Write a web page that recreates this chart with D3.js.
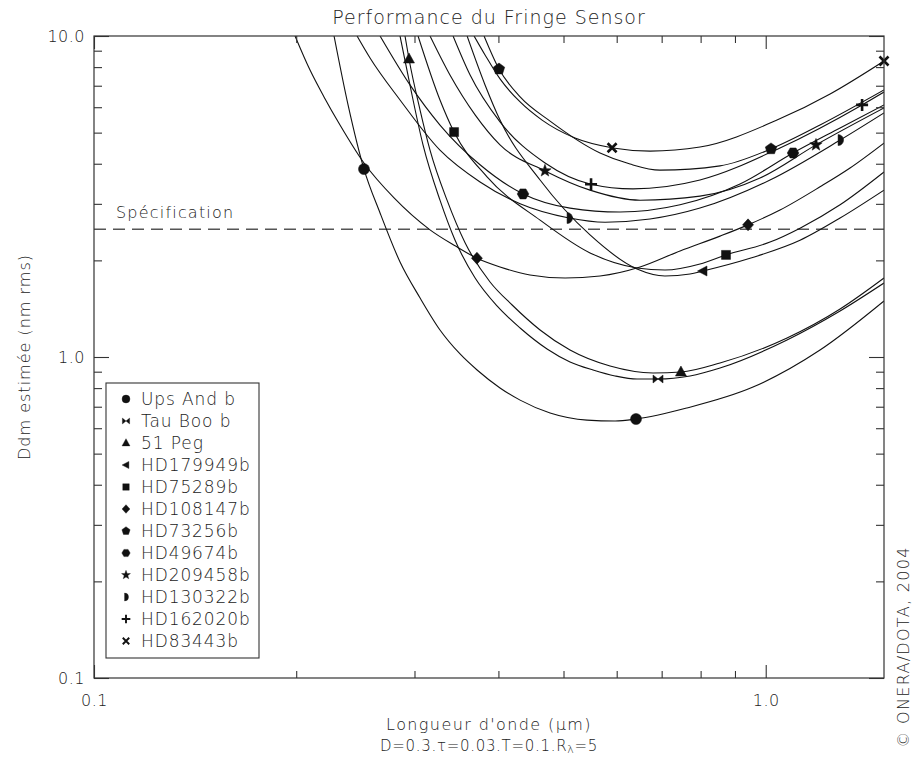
<!DOCTYPE html>
<html><head><meta charset="utf-8">
<script src="https://cdn.jsdelivr.net/npm/d3@7"></script>
<style>
body{margin:0;background:#fff}
svg{display:block}
text{font-family:"DejaVu Sans","Noto Sans",sans-serif;fill:#222;font-weight:200}
</style></head><body>
<svg id="c" width="914" height="757"></svg>
<script>
// ---------- data (wavelength in µm, Ddm in nm rms) ----------
const seriesNames = ["Ups And b","Tau Boo b","51 Peg","HD179949b","HD75289b","HD108147b",
  "HD73256b","HD49674b","HD209458b","HD130322b","HD162020b","HD83443b"];
const seriesSymbols = ["circle","bowtie","triUp","triLeft","square","diamond",
  "pentagon","hexagon","star","halfCircle","plus","cross"];

const lam_UpsAnd = [0.2277,0.2389,0.2523,0.2666,0.2855,0.3058,0.3274,0.3507,0.3718,0.4022,0.4309,0.4775,0.5420,0.5966,0.6411,0.7636,0.9574,1.2046,1.5];
const ddm_UpsAnd = [10.0,6.10,3.85,2.81,1.977,1.527,1.214,1.022,0.911,0.801,0.734,0.669,0.636,0.632,0.641,0.694,0.806,1.051,1.494];

const lam_TauBoo = [0.2855,0.2964,0.3089,0.3274,0.3448,0.3693,0.3981,0.4309,0.4726,0.5113,0.5533,0.5966,0.6433,0.6912,0.7715,0.8550,1.0758,1.2904,1.5];
const ddm_TauBoo = [10.0,6.79,4.58,3.08,2.31,1.762,1.442,1.231,1.059,0.965,0.911,0.873,0.854,0.854,0.873,0.924,1.130,1.391,1.700];

const lam_51Peg = [0.2904,0.2944,0.3058,0.3164,0.3354,0.3568,0.3887,0.4193,0.4614,0.5113,0.5865,0.6796,0.7482,0.8550,1.0758,1.2904,1.5];
const ddm_51Peg = [10.0,8.48,5.88,4.41,3.08,2.27,1.713,1.452,1.214,1.051,0.937,0.892,0.898,0.958,1.146,1.411,1.762];

const lam_HD179949b = [0.3593,0.3821,0.4022,0.4614,0.5476,0.6433,0.7080,0.7715,0.8066,0.9476,1.1248,1.2904,1.5];
const ddm_HD179949b = [10.0,7.04,5.47,3.56,2.40,1.880,1.788,1.813,1.853,2.03,2.31,2.71,3.31];

const lam_HD75289b = [0.3037,0.3274,0.3436,0.3847,0.4614,0.5476,0.6433,0.7080,0.7983,0.8728,1.0148,1.1248,1.2904,1.5];
const ddm_HD75289b = [10.0,6.32,5.02,3.64,2.67,2.11,1.894,1.866,1.949,2.08,2.28,2.52,2.98,3.77];

const lam_HD108147b = [0.1992,0.2097,0.2200,0.2324,0.2523,0.2797,0.3164,0.3448,0.3718,0.4022,0.4457,0.5026,0.5667,0.6500,0.7456,0.8550,0.9411,1.0502,1.2046,1.3351,1.5];
const ddm_HD108147b = [10.0,7.83,6.46,5.28,4.02,3.13,2.49,2.22,2.03,1.907,1.801,1.762,1.788,1.907,2.14,2.38,2.58,2.87,3.39,3.88,4.64];

const lam_HD73256b = [0.3808,0.4008,0.4309,0.4775,0.5667,0.6280,0.6960,0.8550,1.0183,1.2046,1.5];
const ddm_HD73256b = [10.0,7.89,6.46,5.43,4.32,3.99,3.82,3.94,4.45,5.28,6.79];

const lam_HD49674b = [0.2666,0.2954,0.3274,0.3756,0.4354,0.5113,0.6069,0.7456,0.9156,1.0981,1.2904,1.5];
const ddm_HD49674b = [10.0,7.04,5.28,3.97,3.22,2.91,2.83,2.98,3.46,4.32,5.17,6.10];

const lam_HD209458b = [0.3164,0.3388,0.3693,0.4022,0.4694,0.5476,0.6500,0.7983,0.9807,1.1882,1.5];
const ddm_HD209458b = [10.0,7.56,5.68,4.58,3.80,3.31,3.08,3.17,3.61,4.58,5.97];

const lam_HD130322b = [0.2464,0.2576,0.2855,0.3274,0.3756,0.4309,0.5096,0.5765,0.6726,0.7983,1.0148,1.2904,1.5];
const ddm_HD130322b = [10.0,8.54,6.32,4.41,3.51,3.00,2.71,2.63,2.69,2.91,3.56,4.74,5.76];

const lam_HD162020b = [0.3424,0.3630,0.4022,0.4694,0.5476,0.6345,0.7983,1.0502,1.3914,1.5];
const ddm_HD162020b = [10.0,7.56,5.40,4.02,3.46,3.34,3.56,4.48,6.10,6.69];

const lam_HD83443b = [0.3680,0.3821,0.4022,0.4309,0.4646,0.5202,0.5925,0.6726,0.7983,1.0395,1.2470,1.5];
const ddm_HD83443b = [10.0,8.73,7.35,6.23,5.47,4.81,4.48,4.38,4.51,5.47,6.60,8.36];

// wavelengths where each series carries its two symbols
const markerLam1 = [0.2523,0.2721,0.2944,0.3176,0.3436,0.3716,0.4008,0.4352,0.4692,0.5096,0.5495,0.5906];
const markerLam2 = [0.6411,0.6913,0.7478,0.8065,0.8727,0.9412,1.0183,1.0983,1.1881,1.2904,1.3915,1.5];

const specValue = 2.5;
const xMajorTicks = [0.1, 1.0];
const xMajorLabels = ["0.1", "1.0"];
const xMinorTicks = [0.2,0.3,0.4,0.5,0.6,0.7,0.8,0.9];
const yMajorTicks = [0.1, 1, 10];
const yMajorLabels = ["0.1", "1.0", "10.0"];
const yMinorTicks = [0.2,0.3,0.4,0.5,0.6,0.7,0.8,0.9,2,3,4,5,6,7,8,9];

const lamArrays = [lam_UpsAnd,lam_TauBoo,lam_51Peg,lam_HD179949b,lam_HD75289b,lam_HD108147b,lam_HD73256b,lam_HD49674b,lam_HD209458b,lam_HD130322b,lam_HD162020b,lam_HD83443b];
const ddmArrays = [ddm_UpsAnd,ddm_TauBoo,ddm_51Peg,ddm_HD179949b,ddm_HD75289b,ddm_HD108147b,ddm_HD73256b,ddm_HD49674b,ddm_HD209458b,ddm_HD130322b,ddm_HD162020b,ddm_HD83443b];

// ---------- layout ----------
const L = 94, R = 884, T = 36, B = 678;
const svg = d3.select("#c");
const x = d3.scaleLog().domain([0.1, 1.5]).range([L, R]);
const y = d3.scaleLog().domain([0.1, 10]).range([B, T]);

svg.append("defs").append("clipPath").attr("id","clip")
  .append("rect").attr("x",L).attr("y",T).attr("width",R-L).attr("height",B-T);

// ---------- symbols ----------
function poly(n, r, a0){
  const pts=[];
  for(let k=0;k<n;k++){const a=a0+k*2*Math.PI/n; pts.push([r*Math.cos(a), r*Math.sin(a)]);}
  return "M"+pts.map(p=>p[0].toFixed(2)+","+p[1].toFixed(2)).join("L")+"Z";
}
function starPath(ro, ri){
  const pts=[];
  for(let k=0;k<10;k++){const a=-Math.PI/2+k*Math.PI/5; const r=k%2?ri:ro; pts.push([r*Math.cos(a), r*Math.sin(a)]);}
  return "M"+pts.map(p=>p[0].toFixed(2)+","+p[1].toFixed(2)).join("L")+"Z";
}
function drawSymbol(g, type, cx, cy, s){
  const t = `translate(${cx},${cy}) scale(${s})`;
  let d, stroke=false;
  switch(type){
    case "circle": d="M5.5,0A5.5,5.5 0 1,1 -5.5,0A5.5,5.5 0 1,1 5.5,0Z"; break;
    case "bowtie": d="M-5,-4L0,0L-5,4ZM5,-4L0,0L5,4Z"; break;
    case "triUp": d="M0,-6L5.5,4L-5.5,4Z"; break;
    case "triLeft": d="M-5.5,0L4,-5L4,5Z"; break;
    case "square": d="M-4.5,-4.5H4.5V4.5H-4.5Z"; break;
    case "diamond": d="M0,-6L5.5,0L0,6L-5.5,0Z"; break;
    case "pentagon": d=poly(5,6,-Math.PI/2); break;
    case "hexagon": d=poly(6,5.8,0); break;
    case "star": d=starPath(6.5,2.7); break;
    case "halfCircle": d="M-2,-5.5A5.5,5.5 0 0 1 -2,5.5Z"; break;
    case "plus": d="M-6,0H6M0,-6V6"; stroke=true; break;
    case "cross": d="M-4.5,-4.5L4.5,4.5M4.5,-4.5L-4.5,4.5"; stroke=true; break;
  }
  const p = g.append("path").attr("d", d).attr("transform", t);
  if(stroke) p.attr("fill","none").attr("stroke","#111").attr("stroke-width",2.6);
  else p.attr("fill","#111").attr("stroke","#111").attr("stroke-width",0.5);
}

// ---------- spec line ----------
svg.append("line").attr("x1",L).attr("x2",R).attr("y1",y(specValue)).attr("y2",y(specValue))
  .attr("stroke","#555").attr("stroke-width",1.3).attr("stroke-dasharray","12,7");
svg.append("text").attr("x",116).attr("y",y(specValue)-11).attr("font-size",16)
  .attr("letter-spacing",1.2).text("Spécification");

// ---------- curves ----------
const line = d3.line().x(d=>x(d[0])).y(d=>y(d[1])).curve(d3.curveMonotoneX);
const gCurves = svg.append("g").attr("clip-path","url(#clip)");
const paths = lamArrays.map((la,i)=>{
  const pts = la.map((l,j)=>[l, ddmArrays[i][j]]);
  return gCurves.append("path").attr("d", line(pts)).attr("fill","none")
    .attr("stroke","#111").attr("stroke-width",1.1).node();
});

function yOnPath(node, px){
  const len = node.getTotalLength();
  let lo=0, hi=len;
  for(let k=0;k<40;k++){const m=(lo+hi)/2; if(node.getPointAtLength(m).x<px) lo=m; else hi=m;}
  return node.getPointAtLength((lo+hi)/2).y;
}
const gMarks = svg.append("g");
seriesNames.forEach((nm,i)=>{
  [markerLam1[i], markerLam2[i]].forEach(lm=>{
    const la = lamArrays[i];
    if(lm < la[0] || lm > la[la.length-1]) return;
    const px = x(lm), py = yOnPath(paths[i], px);
    if(py < T-1 || py > B) return;
    drawSymbol(gMarks, seriesSymbols[i], px, py, 1);
  });
});

// ---------- axes ----------
const axisStyle = g => { g.select(".domain").remove(); g.selectAll("line").attr("stroke","#333").attr("stroke-width",1.1);
  g.selectAll("text").attr("font-size",16).attr("font-family","DejaVu Sans").attr("fill","#222").attr("letter-spacing",0.5); };
svg.append("g").attr("transform",`translate(0,${B})`)
  .call(d3.axisBottom(x).tickValues(xMajorTicks).tickSize(-13).tickPadding(17).tickFormat((d,i)=>xMajorLabels[i])).call(axisStyle);
svg.append("g").attr("transform",`translate(0,${B})`)
  .call(d3.axisBottom(x).tickValues(xMinorTicks).tickSize(-7).tickFormat("")).call(axisStyle);
svg.append("g").attr("transform",`translate(0,${T})`)
  .call(d3.axisTop(x).tickValues(xMajorTicks).tickSize(-13).tickFormat("")).call(axisStyle);
svg.append("g").attr("transform",`translate(0,${T})`)
  .call(d3.axisTop(x).tickValues(xMinorTicks).tickSize(-7).tickFormat("")).call(axisStyle);
svg.append("g").attr("transform",`translate(${L},0)`)
  .call(d3.axisLeft(y).tickValues(yMajorTicks).tickSize(-15).tickPadding(9).tickFormat((d,i)=>yMajorLabels[i])).call(axisStyle);
svg.append("g").attr("transform",`translate(${L},0)`)
  .call(d3.axisLeft(y).tickValues(yMinorTicks).tickSize(-8).tickFormat("")).call(axisStyle);
svg.append("g").attr("transform",`translate(${R},0)`)
  .call(d3.axisRight(y).tickValues(yMajorTicks).tickSize(-15).tickFormat("")).call(axisStyle);
svg.append("g").attr("transform",`translate(${R},0)`)
  .call(d3.axisRight(y).tickValues(yMinorTicks).tickSize(-8).tickFormat("")).call(axisStyle);
svg.append("rect").attr("x",L).attr("y",T).attr("width",R-L).attr("height",B-T)
  .attr("fill","none").attr("stroke","#333").attr("stroke-width",1.2);

// ---------- titles ----------
svg.append("text").attr("x",(L+R)/2).attr("y",24).attr("text-anchor","middle")
  .attr("font-size",19).attr("letter-spacing",1).text("Performance du Fringe Sensor");
svg.append("text").attr("transform",`translate(30,${(T+B)/2}) rotate(-90)`).attr("text-anchor","middle")
  .attr("font-size",16).attr("letter-spacing",1).text("Ddm estimée (nm rms)");
svg.append("text").attr("x",(L+R)/2).attr("y",730).attr("text-anchor","middle")
  .attr("font-size",16).attr("letter-spacing",1.4).text("Longueur d'onde (µm)");
const sub = svg.append("text").attr("x",(L+R)/2).attr("y",751).attr("text-anchor","middle")
  .attr("font-size",15).attr("letter-spacing",0.7);
sub.append("tspan").text("D=0.3.τ=0.03.T=0.1.R");
sub.append("tspan").attr("font-size",11).attr("dy",2).text("λ");
sub.append("tspan").attr("dy",-2).text("=5");
svg.append("text").attr("transform","translate(909,647) rotate(-90)").attr("text-anchor","middle")
  .attr("font-size",16).attr("letter-spacing",1.3).text("© ONERA/DOTA, 2004");

// ---------- legend ----------
const lg = svg.append("g");
lg.append("rect").attr("x",106).attr("y",383).attr("width",153).attr("height",275)
  .attr("fill","#fff").attr("stroke","#333").attr("stroke-width",1.1);
seriesNames.forEach((nm,i)=>{
  const cy = 399 + i*22;
  drawSymbol(lg, seriesSymbols[i], 126, cy, 0.72);
  lg.append("text").attr("x",141).attr("y",cy).attr("dy","0.36em").attr("font-size",17)
    .attr("letter-spacing",0.9).text(nm);
});
</script>
</body></html>
